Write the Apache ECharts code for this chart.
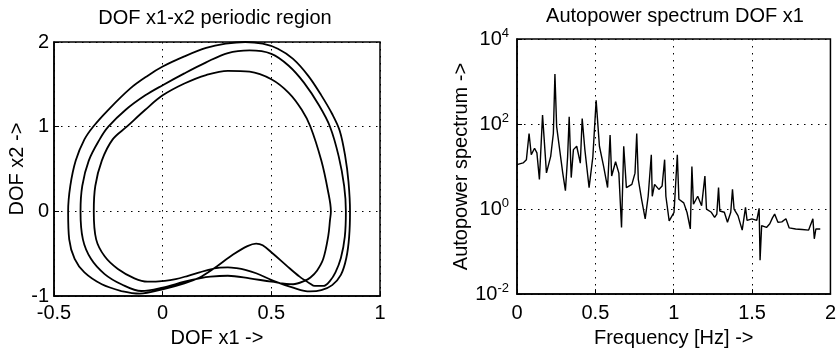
<!DOCTYPE html>
<html><head><meta charset="utf-8">
<script src="https://cdn.jsdelivr.net/npm/echarts@6/dist/echarts.min.js"></script>
<style>html,body{margin:0;padding:0;background:#fff}#c{width:839px;height:353px}</style>
</head><body><div id="c"></div>
<script>
// ---- Left plot: phase trajectory (DOF x1 vs DOF x2), traced in drawing order ----
const phaseX1 = [
 -0.19,-0.28,-0.36,-0.405,-0.43,-0.435,-0.425,-0.40,-0.36,-0.32,-0.25,-0.15,-0.07,0.0,0.1,0.2,0.29,0.38,0.46,0.53,0.6,0.67,0.73,0.78,0.815,0.84,0.855,0.862,0.858,0.845,0.82,0.78,0.73,0.677,0.6,0.51,0.43,0.38,0.34,0.30,0.263,0.21,0.17,
 0.117,0.06,0.01,-0.07,-0.13,-0.206,-0.267,-0.306,-0.317,-0.31,-0.28,-0.23,-0.165,-0.08,0.0,0.1,0.2,0.3,0.4,0.5,0.58,0.64,0.68,0.73,0.76,0.774,0.77,0.762,0.739,0.71,0.68,0.654,0.6,
 0.5,0.4,0.3,0.22,0.17,0.1,0.0,-0.098,
 -0.19,-0.267,-0.33,-0.367,-0.378,-0.37,-0.34,-0.29,-0.25,-0.17,-0.08,0.0,0.1,0.2,0.3,0.4,0.5,0.58,0.65,0.72,0.77,0.81,0.835,0.843,0.838,0.82,0.795,0.77,0.74,0.70,
 0.677,0.63,0.57,0.508,0.46,0.43,0.39,0.324,0.232,0.17,0.1,0.0,-0.106,-0.19
];
const phaseX2 = [
 -0.94,-0.86,-0.72,-0.56,-0.33,0.0,0.3,0.6,0.85,1.0,1.2,1.45,1.6,1.71,1.83,1.93,1.98,2.0,1.98,1.92,1.8,1.6,1.37,1.15,0.95,0.65,0.35,0.0,-0.3,-0.55,-0.75,-0.87,-0.93,-0.945,-0.90,-0.82,-0.73,-0.69,-0.67,-0.66,-0.665,-0.69,-0.72,
 -0.76,-0.80,-0.82,-0.83,-0.79,-0.68,-0.53,-0.33,0.0,0.3,0.6,0.85,1.0,1.2,1.37,1.51,1.61,1.66,1.65,1.56,1.4,1.2,1.0,0.6,0.25,0.0,-0.1,-0.29,-0.56,-0.7,-0.78,-0.82,-0.86,
 -0.83,-0.79,-0.76,-0.77,-0.79,-0.83,-0.9,-0.94,
 -0.86,-0.74,-0.56,-0.33,0.0,0.3,0.6,0.85,1.0,1.2,1.37,1.49,1.63,1.76,1.87,1.9,1.86,1.72,1.52,1.25,1.0,0.65,0.3,0.0,-0.3,-0.55,-0.72,-0.82,-0.88,-0.88,
 -0.85,-0.77,-0.64,-0.5,-0.40,-0.38,-0.41,-0.51,-0.68,-0.78,-0.85,-0.92,-0.97,-0.94
];
// ---- Right plot: autopower spectrum ----
const freqHz = [0,0.039,0.060,0.077,0.091,0.112,0.127,0.143,0.163,0.188,0.215,0.232,0.242,0.253,0.267,0.292,0.309,0.323,0.333,0.346,0.360,0.381,0.404,0.416,0.433,0.460,0.484,0.505,0.526,0.553,0.578,0.594,0.604,0.629,0.650,0.667,0.681,0.698,0.733,0.753,0.764,0.774,0.795,0.818,0.837,0.857,0.863,0.878,0.905,0.926,0.942,0.950,0.971,1.002,1.023,1.033,1.064,1.085,1.106,1.116,1.126,1.153,1.178,1.199,1.209,1.240,1.261,1.275,1.286,1.294,1.323,1.343,1.364,1.375,1.385,1.410,1.437,1.458,1.468,1.499,1.530,1.545,1.551,1.561,1.592,1.613,1.630,1.644,1.665,1.690,1.716,1.737,1.778,1.820,1.861,1.888,1.897,1.907,1.935];
const autopower = [11.1,12.2,14.5,60,19,27,21,5,162,7.1,17.4,60,1510,87,35,7,2.7,17,148,5.5,25,30,12,135,25,3.2,17,360,30,10,3.2,55,6,13,7,0.37,30,3.2,3.8,7,60,5,1.7,0.59,2,19,2,3.8,2.9,3.5,14.5,2,0.53,0.84,19,1.7,1.4,0.83,0.34,10,1.3,2,1.2,6,1.0,0.84,0.64,0.76,3.2,0.9,0.84,0.49,0.84,2.9,1.0,0.7,0.32,1.1,0.54,0.59,0.54,1.04,0.063,0.41,0.37,0.45,0.62,0.76,0.49,0.5,0.59,0.36,0.34,0.33,0.32,0.59,0.2,0.34,0.34];
// ---- Texts ----
const leftTitle = 'DOF x1-x2 periodic region';
const rightTitle = 'Autopower spectrum DOF x1';
const leftXName = 'DOF x1 ->';
const leftYName = 'DOF x2 ->';
const rightXName = 'Frequency [Hz] ->';
const rightYName = 'Autopower spectrum ->';

const FONT = 'Liberation Sans, Arial, Helvetica, sans-serif';
const phaseData = phaseX1.map((x, i) => [x, phaseX2[i]]);
const specData = freqHz.map((f, i) => [f, autopower[i]]);
const grid = {type: [1.5, 5.5], color: '#000', width: 1};
const axisLine = {show: true, onZero: false, lineStyle: {color: '#000', width: 1.5}};
const tick = {show: true, inside: true, length: 5, lineStyle: {color: '#000'}};
const lbl = {color: '#000', fontSize: 20, fontFamily: FONT};
const nameStyle = {color: '#000', fontSize: 20, fontFamily: FONT};

const chart = echarts.init(document.getElementById('c'), null, {renderer: 'canvas'});
chart.setOption({
  animation: false,
  backgroundColor: '#fff',
  title: [
    {text: leftTitle, left: 215, top: 8, padding: 0, textAlign: 'center', textStyle: {fontSize: 20, fontWeight: 'normal', color: '#000', fontFamily: FONT}},
    {text: rightTitle, left: 675, top: 6, padding: 0, textAlign: 'center', textStyle: {fontSize: 20, fontWeight: 'normal', color: '#000', fontFamily: FONT}}
  ],
  grid: [
    {left: 54, top: 42, width: 326, height: 256, show: true, borderColor: '#000', borderWidth: 1.5, backgroundColor: 'transparent'},
    {left: 517, top: 39, width: 321, height: 257, show: true, borderColor: '#000', borderWidth: 1.5, backgroundColor: 'transparent'}
  ],
  xAxis: [
    {type: 'value', gridIndex: 0, min: -0.5, max: 1, interval: 0.5, axisLine, axisTick: tick,
     axisLabel: Object.assign({margin: 7, formatter: v => String(v)}, lbl), splitLine: {show: true, lineStyle: grid},
     name: leftXName, nameLocation: 'middle', nameGap: 28, nameTextStyle: nameStyle},
    {type: 'value', gridIndex: 1, min: 0, max: 2, interval: 0.5, axisLine, axisTick: tick,
     axisLabel: Object.assign({margin: 9, formatter: v => String(v)}, lbl), splitLine: {show: true, lineStyle: grid},
     name: rightXName, nameLocation: 'middle', nameGap: 22, nameTextStyle: nameStyle}
  ],
  yAxis: [
    {type: 'value', gridIndex: 0, min: -1, max: 2, interval: 1, axisLine, axisTick: tick,
     axisLabel: Object.assign({margin: 5}, lbl), splitLine: {show: true, lineStyle: grid},
     name: leftYName, nameLocation: 'middle', nameGap: 27, nameTextStyle: nameStyle},
    {type: 'log', gridIndex: 1, logBase: 10, min: 0.01, max: 10000, interval: 2, axisLine, axisTick: tick,
     axisLabel: {margin: 8, color: '#000', fontFamily: FONT,
       formatter: v => '{b|10}{e|' + Math.round(Math.log10(v)) + '}',
       rich: {b: {fontSize: 20, fontFamily: FONT, color: '#000'}, e: {fontSize: 13, fontFamily: FONT, color: '#000', padding: [0, 0, 12, 0]}}},
     splitLine: {show: true, lineStyle: grid},
     name: rightYName, nameLocation: 'middle', nameGap: 46, nameTextStyle: nameStyle}
  ],
  series: [
    {type: 'line', xAxisIndex: 0, yAxisIndex: 0, data: phaseData, showSymbol: false, smooth: 0.35,
     lineStyle: {color: '#000', width: 1.8}},
    {type: 'line', xAxisIndex: 1, yAxisIndex: 1, data: specData, showSymbol: false, smooth: false,
     lineStyle: {color: '#000', width: 1.4}}
  ]
});
</script></body></html>
